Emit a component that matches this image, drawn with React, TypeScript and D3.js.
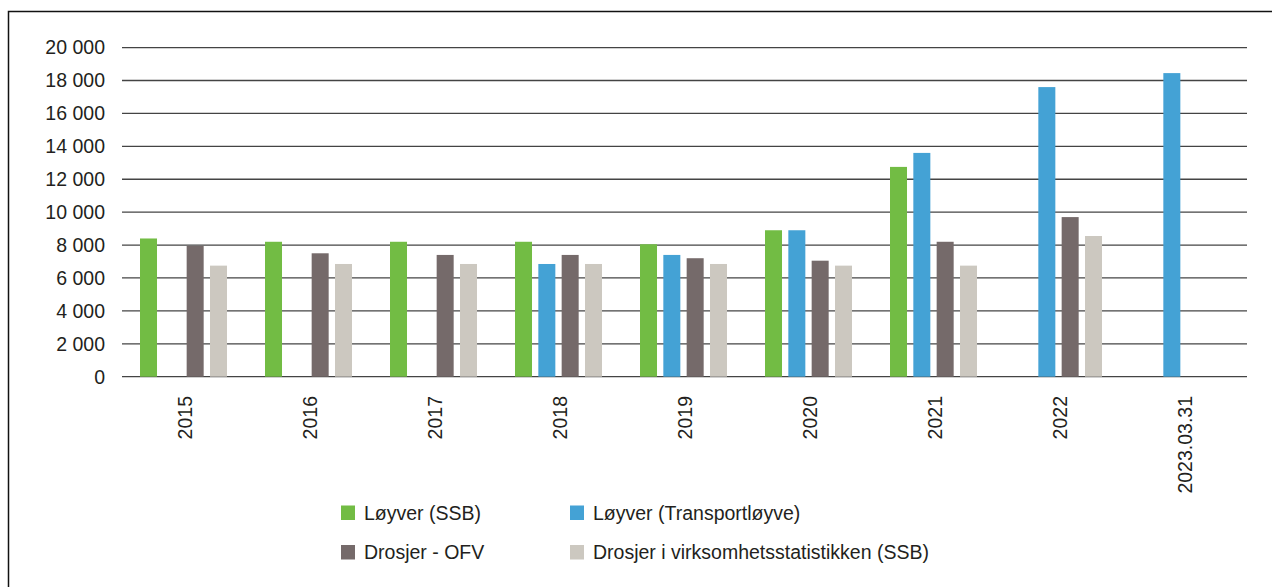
import React from "react";
import * as d3 from "d3";

const categories = ["2015", "2016", "2017", "2018", "2019", "2020", "2021", "2022", "2023.03.31"];
const seriesNames = ["Løyver (SSB)", "Løyver (Transportløyve)", "Drosjer - OFV", "Drosjer i virksomhetsstatistikken (SSB)"];
const loyverSSB: (number | null)[] = [8400, 8200, 8200, 8200, 8050, 8900, 12750, null, null];
const loyverTransport: (number | null)[] = [null, null, null, 6850, 7400, 8900, 13600, 17600, 18450];
const drosjerOFV: (number | null)[] = [7950, 7500, 7400, 7400, 7200, 7050, 8200, 9700, null];
const drosjerSSB: (number | null)[] = [6750, 6850, 6850, 6850, 6850, 6750, 6750, 8550, null];
const yTicks = [0, 2000, 4000, 6000, 8000, 10000, 12000, 14000, 16000, 18000, 20000];
const colors = ["#72bc44", "#44a2d5", "#756a6a", "#ccc8c0"];

const seriesValues = [loyverSSB, loyverTransport, drosjerOFV, drosjerSSB];

export default function App() {
  const W = 1272, H = 587;
  const left = 122, right = 1247, top = 47.6, bottom = 376.7;
  const x = d3.scaleBand<string>().domain(categories).range([left, right]).padding(0);
  const y = d3.scaleLinear().domain([0, 20000]).range([bottom, top]);
  const bw = x.bandwidth();
  const sub = d3.scaleBand<string>().domain(seriesNames).range([18, 105]).paddingInner(0.271).paddingOuter(0);
  const fmt = (v: number) => d3.format(",")(v).replace(/,/g, " ");
  const font = "'Liberation Sans', Arial, sans-serif";
  const textColor = "#231f20";

  return (
    <svg width={W} height={H} style={{ position: "absolute", left: 0, top: 0, background: "#fff" }}>
      <rect x={8.5} y={11.5} width={1400} height={700} fill="#fff" stroke="#111" strokeWidth={1.5} />
      {yTicks.map((t) => (
        <g key={t}>
          <line x1={left} x2={right} y1={y(t)} y2={y(t)} stroke="#444" strokeWidth={1.3} />
          <text x={105} y={y(t)} dy="0.35em" textAnchor="end" fontFamily={font} fontSize={19.5} fill={textColor}>
            {fmt(t)}
          </text>
        </g>
      ))}
      {categories.map((c, i) => (
        <g key={c} transform={`translate(${x(c)},0)`}>
          {seriesNames.map((s, j) => {
            const v = seriesValues[j][i];
            if (v == null) return null;
            return (
              <rect key={s} x={sub(s)} y={y(v)} width={sub.bandwidth()} height={y(0) - y(v)} fill={colors[j]} />
            );
          })}
          <text
            transform={`translate(${bw / 2 + 1},396) rotate(-90)`}
            dy="0.35em"
            textAnchor="end"
            fontFamily={font}
            fontSize={19.5}
            fill={textColor}
          >
            {c}
          </text>
        </g>
      ))}
      {seriesNames.map((s, j) => {
        const col = j % 2;
        const row = Math.floor(j / 2);
        const lx = col === 0 ? 341 : 570;
        const ly = row === 0 ? 505.5 : 545;
        return (
          <g key={s}>
            <rect x={lx} y={ly} width={14} height={14.5} fill={colors[j]} />
            <text x={lx + 23} y={ly + 7.5} dy="0.35em" fontFamily={font} fontSize={19.5} fill={textColor}>
              {s}
            </text>
          </g>
        );
      })}
    </svg>
  );
}
